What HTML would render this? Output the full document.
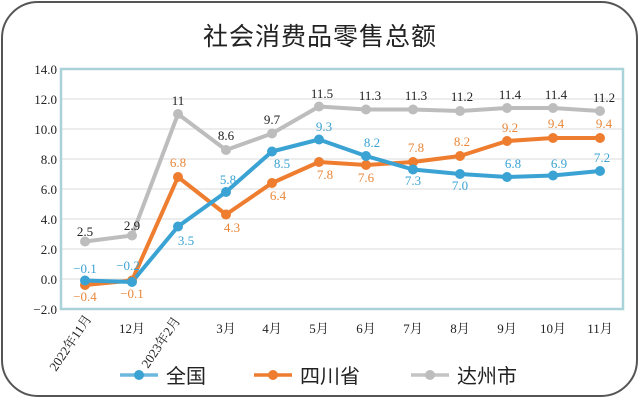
<!DOCTYPE html>
<html><head><meta charset="utf-8"><style>body{margin:0;background:#fff}svg{display:block}</style></head><body>
<svg width="640" height="402" xmlns="http://www.w3.org/2000/svg" font-family="'Liberation Serif','Noto Serif CJK SC',serif">
<rect x="2" y="2" width="635" height="394" rx="36" fill="#fff" stroke="#555" stroke-width="2"/>
<text x="320" y="45" text-anchor="middle" font-family="'Liberation Sans','Noto Sans CJK SC',sans-serif" font-size="25" fill="#222" letter-spacing="1">社会消费品零售总额</text>
<g stroke="#e2e2e2" stroke-width="1.2">
<line x1="61" x2="623" y1="99" y2="99"/><line x1="61" x2="623" y1="129" y2="129"/><line x1="61" x2="623" y1="159" y2="159"/><line x1="61" x2="623" y1="189" y2="189"/><line x1="61" x2="623" y1="219" y2="219"/><line x1="61" x2="623" y1="249" y2="249"/><line x1="61" x2="623" y1="279" y2="279"/>
</g>
<rect x="61" y="69" width="562" height="240" fill="none" stroke="#a9d3d8" stroke-width="2.5"/>
<g font-size="13" fill="#222" text-anchor="end">
<text x="57" y="74">14.0</text><text x="57" y="104">12.0</text><text x="57" y="134">10.0</text><text x="57" y="164">8.0</text><text x="57" y="194">6.0</text><text x="57" y="224">4.0</text><text x="57" y="254">2.0</text><text x="57" y="284">0.0</text><text x="57" y="314">−2.0</text>
</g>
<g font-size="13" fill="#222" text-anchor="middle">
<text x="132" y="333">12月</text><text x="226" y="333">3月</text><text x="272" y="333">4月</text><text x="319" y="333">5月</text><text x="366" y="333">6月</text><text x="413" y="333">7月</text><text x="460" y="333">8月</text><text x="507" y="333">9月</text><text x="553" y="333">10月</text><text x="600" y="333">11月</text>
<text transform="translate(56,372) rotate(-56)" text-anchor="start" font-size="13">2022年11月</text>
<text transform="translate(148,369) rotate(-56)" text-anchor="start" font-size="13">2023年2月</text>
</g>
<g fill="none" stroke-width="4" stroke-linejoin="round">
<polyline stroke="#bdbdbd" points="85,241.5 132,235.5 178,114 226,150 272,133.5 319,106.5 366,109.5 413,109.5 460,111 507,108 553,108 600,111"/>
<polyline stroke="#ee7d30" points="85,285 132,280.5 178,177 226,214.5 272,183 319,162 366,165 413,162 460,156 507,141 553,138 600,138"/>
<polyline stroke="#3aa3d3" points="85,280.5 132,282 178,226.5 226,192 272,151.5 319,139.5 366,156 413,169.5 460,174 507,177 553,175.5 600,171"/>
</g>
<g fill="#bdbdbd"><circle cx="85" cy="241.5" r="5"/><circle cx="132" cy="235.5" r="5"/><circle cx="178" cy="114" r="5"/><circle cx="226" cy="150" r="5"/><circle cx="272" cy="133.5" r="5"/><circle cx="319" cy="106.5" r="5"/><circle cx="366" cy="109.5" r="5"/><circle cx="413" cy="109.5" r="5"/><circle cx="460" cy="111" r="5"/><circle cx="507" cy="108" r="5"/><circle cx="553" cy="108" r="5"/><circle cx="600" cy="111" r="5"/></g>
<g fill="#ee7d30"><circle cx="85" cy="285" r="5"/><circle cx="132" cy="280.5" r="5"/><circle cx="178" cy="177" r="5"/><circle cx="226" cy="214.5" r="5"/><circle cx="272" cy="183" r="5"/><circle cx="319" cy="162" r="5"/><circle cx="366" cy="165" r="5"/><circle cx="413" cy="162" r="5"/><circle cx="460" cy="156" r="5"/><circle cx="507" cy="141" r="5"/><circle cx="553" cy="138" r="5"/><circle cx="600" cy="138" r="5"/></g>
<g fill="#3aa3d3"><circle cx="85" cy="280.5" r="5"/><circle cx="132" cy="282" r="5"/><circle cx="178" cy="226.5" r="5"/><circle cx="226" cy="192" r="5"/><circle cx="272" cy="151.5" r="5"/><circle cx="319" cy="139.5" r="5"/><circle cx="366" cy="156" r="5"/><circle cx="413" cy="169.5" r="5"/><circle cx="460" cy="174" r="5"/><circle cx="507" cy="177" r="5"/><circle cx="553" cy="175.5" r="5"/><circle cx="600" cy="171" r="5"/></g>
<g font-size="13" text-anchor="middle" fill="#222">
<text x="85" y="236">2.5</text><text x="132" y="230">2.9</text><text x="178" y="105">11</text><text x="226" y="140">8.6</text><text x="272" y="124">9.7</text><text x="322" y="98">11.5</text><text x="370" y="100">11.3</text><text x="416" y="100">11.3</text><text x="462" y="101">11.2</text><text x="510" y="99">11.4</text><text x="556" y="99">11.4</text><text x="604" y="102">11.2</text>
</g>
<g font-size="13" text-anchor="middle" fill="#e8873a">
<text x="85" y="301">−0.4</text><text x="132" y="298">−0.1</text><text x="178" y="167">6.8</text><text x="232" y="232">4.3</text><text x="278" y="200">6.4</text><text x="325" y="179">7.8</text><text x="366" y="182">7.6</text><text x="416" y="152">7.8</text><text x="462" y="146">8.2</text><text x="510" y="132">9.2</text><text x="556" y="128">9.4</text><text x="604" y="128">9.4</text>
</g>
<g font-size="13" text-anchor="middle" fill="#3aa3d3">
<text x="85" y="273">−0.1</text><text x="128" y="270">−0.2</text><text x="186" y="245">3.5</text><text x="228" y="184">5.8</text><text x="282" y="168">8.5</text><text x="324" y="131">9.3</text><text x="372" y="147">8.2</text><text x="413" y="185">7.3</text><text x="460" y="190">7.0</text><text x="513" y="168">6.8</text><text x="559" y="168">6.9</text><text x="602" y="162">7.2</text>
</g>
<g stroke-width="3.5"><line x1="120" x2="158" y1="375" y2="375" stroke="#6db9de"/><line x1="254" x2="292" y1="375" y2="375" stroke="#ee7d30"/><line x1="411" x2="449" y1="375" y2="375" stroke="#c4c4c4"/></g>
<circle cx="139" cy="375" r="5" fill="#3aa3d3"/><circle cx="273" cy="375" r="5" fill="#ee7d30"/><circle cx="430" cy="375" r="5" fill="#bdbdbd"/>
<g font-family="'Liberation Sans','Noto Sans CJK SC',sans-serif" font-size="20" fill="#222">
<text x="166" y="383">全国</text><text x="300" y="383">四川省</text><text x="457" y="383">达州市</text>
</g>
</svg>
</body></html>
